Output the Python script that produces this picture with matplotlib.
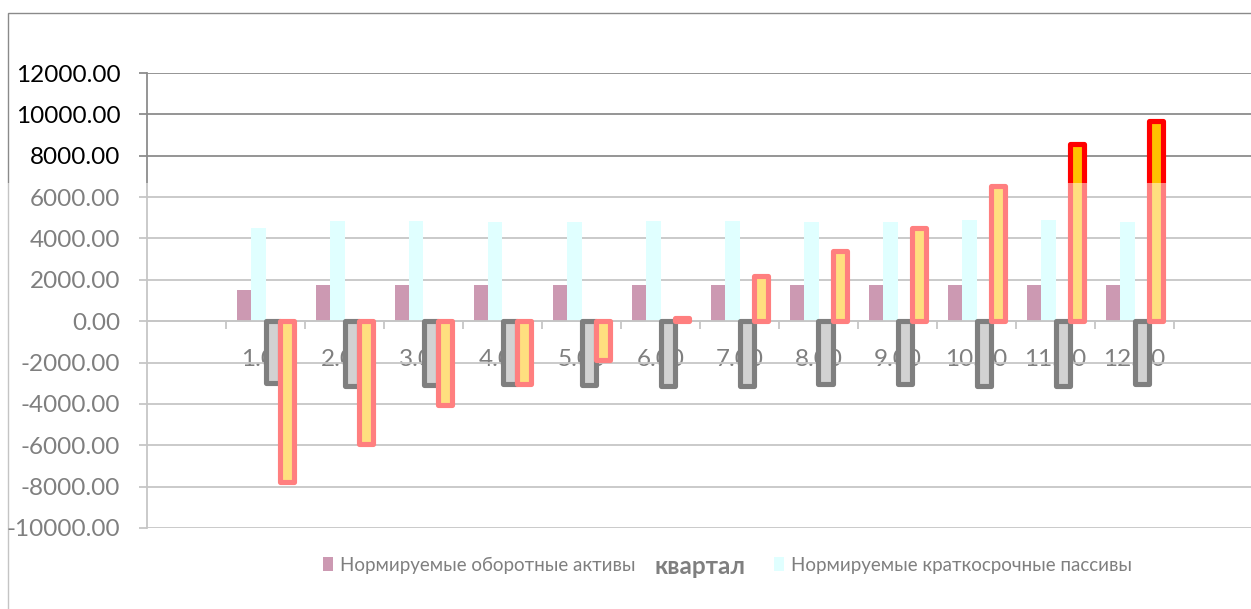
import matplotlib
matplotlib.use("Agg")
import matplotlib.pyplot as plt
from matplotlib.patches import Rectangle, Patch
import numpy as np

plt.rcParams['font.family'] = ['Lato', 'DejaVu Sans']

# Quarterly data
quarters = [1, 2, 3, 4, 5, 6, 7, 8, 9, 10, 11, 12]
quarter_labels = ["1.00", "2.00", "3.00", "4.00", "5.00", "6.00",
                  "7.00", "8.00", "9.00", "10.00", "11.00", "12.00"]
norm_assets = [1500, 1750, 1750, 1750, 1750, 1750, 1750, 1750, 1750, 1750, 1750, 1750]
norm_liabilities = [4500, 4860, 4860, 4800, 4800, 4860, 4860, 4800, 4800, 4880, 4880, 4800]
series_gray = [-2980, -3110, -3100, -3060, -3100, -3110, -3110, -3060, -3060, -3110, -3110, -3060]
series_gold = [-7760, -5940, -4050, -3030, -1900, 150, 2200, 3400, 4500, 6550, 8550, 9700]

y_ticks = np.arange(-10000, 12001, 2000)

W, H = 1251, 609
fig = plt.figure(figsize=(W / 100, H / 100), dpi=100)

# chart area frame
fig.add_artist(Rectangle((8 / W, -0.05), 1.1, (H - 13) / H + 0.05,
                         transform=fig.transFigure, fill=False,
                         edgecolor='#8a8a8a', linewidth=1.0, zorder=0))

ax = fig.add_axes([147 / W, 81 / H, 1106 / W, 455 / H])
ax.set_axisbelow(True)

x = np.array(quarters, dtype=float)
w = 0.179
grid_c = '#8c8c8c'

ax.bar(x - 1.5 * w, norm_assets, w, color='#993366', zorder=2,
       label='Нормируемые оборотные активы')
ax.bar(x - 0.5 * w, norm_liabilities, w, color='#C1FFFF', zorder=2,
       label='Нормируемые краткосрочные пассивы')
ax.bar(x + 0.5 * w, series_gray, w, facecolor='#A6A6A6', edgecolor='black',
       linewidth=3.7, joinstyle='round', zorder=3)
ax.bar(x + 1.5 * w, series_gold, w, facecolor='#FFC000', edgecolor='#FF0000',
       linewidth=3.7, joinstyle='round', zorder=4)

ax.set_xlim(-0.5, 13.5)
ax.set_ylim(-10000, 12000)
ax.set_yticks(y_ticks)
ax.set_yticklabels([f"{v:.2f}" for v in y_ticks])
ax.yaxis.grid(True, color=grid_c, linewidth=1.3)

for s in ['top', 'right']:
    ax.spines[s].set_visible(False)
ax.spines['left'].set_color(grid_c)
ax.spines['left'].set_linewidth(1.3)
ax.spines['bottom'].set_position(('data', 0))
ax.spines['bottom'].set_color(grid_c)
ax.spines['bottom'].set_linewidth(1.3)

ax.tick_params(axis='y', length=5.8, width=1.3, color=grid_c, pad=13.5,
               labelsize=17.5, labelcolor='black')
ax.set_xticks(x)
ax.set_xticklabels(quarter_labels)
ax.set_xticks(np.arange(0.5, 13, 1.0), minor=True)
ax.tick_params(axis='x', which='major', length=0, pad=20,
               labelsize=17.5, labelcolor='black')
ax.tick_params(axis='x', which='minor', length=5.8, width=1.3, color=grid_c)

ax.set_xlabel('квартал', fontsize=17.5, fontweight='bold', color='black',
              va='center')
ax.xaxis.set_label_coords(0.5, -0.0857)

handles = [Patch(facecolor='#993366'), Patch(facecolor='#C1FFFF')]
fig.legend(handles, ['Нормируемые оборотные активы', 'Нормируемые краткосрочные пассивы'],
           loc='center left', bbox_to_anchor=(323 / W, (H - 565) / H),
           ncol=2, frameon=False, fontsize=13.5, handlelength=0.55,
           handleheight=0.75, handletextpad=0.35, columnspacing=7.4,
           borderpad=0, borderaxespad=0, labelcolor='black')

# lighter wash over the lower part of the chart
fig.add_artist(Rectangle((0, 0), 1, (H - 183.3) / H, transform=fig.transFigure,
                         facecolor='white', edgecolor='none', alpha=0.5, zorder=100))

fig.savefig('out.png', dpi=100, facecolor='white')
